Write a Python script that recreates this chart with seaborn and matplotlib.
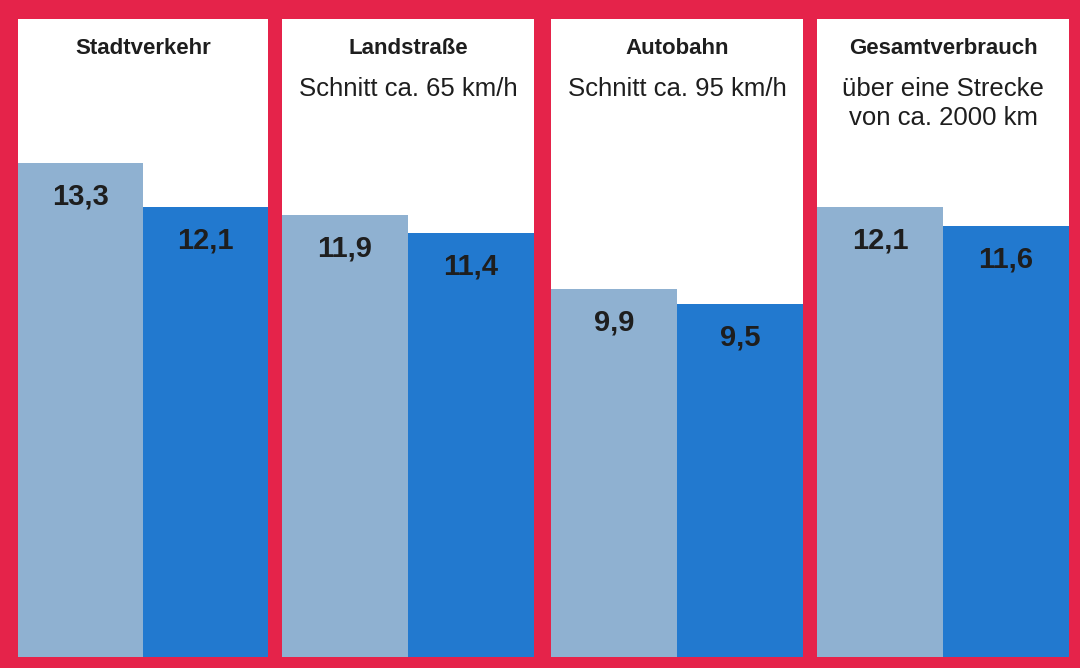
import matplotlib
matplotlib.use("Agg")
import matplotlib.pyplot as plt
import seaborn as sns
import pandas as pd

# Data
categories = ["Stadtverkehr", "Landstraße", "Autobahn", "Gesamtverbrauch"]
subtitles = ["", "Schnitt ca. 65 km/h", "Schnitt ca. 95 km/h", "über eine Strecke\nvon ca. 2000 km"]
series = ["A", "B"]
values_a = [13.3, 11.9, 9.9, 12.1]
values_b = [12.1, 11.4, 9.5, 11.6]

sns.set_theme(style="white")
plt.rcParams["font.family"] = ["Liberation Sans", "DejaVu Sans"]

RED = "#e5234a"
LIGHT = "#8fb1d1"
BLUE = "#2279cf"
TXT = "#1e1e1e"

W, H = 1080, 668
fig = plt.figure(figsize=(W / 100, H / 100), dpi=100, facecolor=RED)

panels_x = [(18, 268), (282, 534), (551, 803), (817, 1069)]
top_px, bot_px = 19, 657
px_per_unit = 37.15
ymax = (bot_px - top_px) / px_per_unit


def fy(py):
    return 1 - (py - top_px) / (bot_px - top_px)


for i, cat in enumerate(categories):
    x0, x1 = panels_x[i]
    ax = fig.add_axes([x0 / W, (H - bot_px) / H, (x1 - x0) / W, (bot_px - top_px) / H])
    ax.set_facecolor("white")
    df = pd.DataFrame({"s": series, "v": [values_a[i], values_b[i]]})
    sns.barplot(data=df, x="s", y="v", hue="s", palette=[LIGHT, BLUE],
                width=1.0, legend=False, ax=ax, saturation=1.0, linewidth=0)
    ax.set_xlim(-0.5, 1.5)
    ax.set_ylim(0, ymax)
    ax.set_xticks([])
    ax.set_yticks([])
    ax.set_xlabel("")
    ax.set_ylabel("")
    for sp in ax.spines.values():
        sp.set_visible(False)
    for j, v in enumerate([values_a[i], values_b[i]]):
        ax.annotate(f"{v:.1f}".replace(".", ","), xy=(j, v), xytext=(0, -24),
                    textcoords="offset points", ha="center", va="center",
                    fontsize=21, fontweight="bold", color=TXT)
    ax.text(0.5, fy(49), cat, transform=ax.transAxes,
            ha="center", va="center", fontsize=16, fontweight="bold", color=TXT)
    if subtitles[i]:
        for k, line in enumerate(subtitles[i].split("\n")):
            ax.text(0.5, fy(89 + 29 * k), line, transform=ax.transAxes,
                    ha="center", va="center", fontsize=18.5, color=TXT)

fig.savefig("out.png", dpi=100, facecolor=RED)
